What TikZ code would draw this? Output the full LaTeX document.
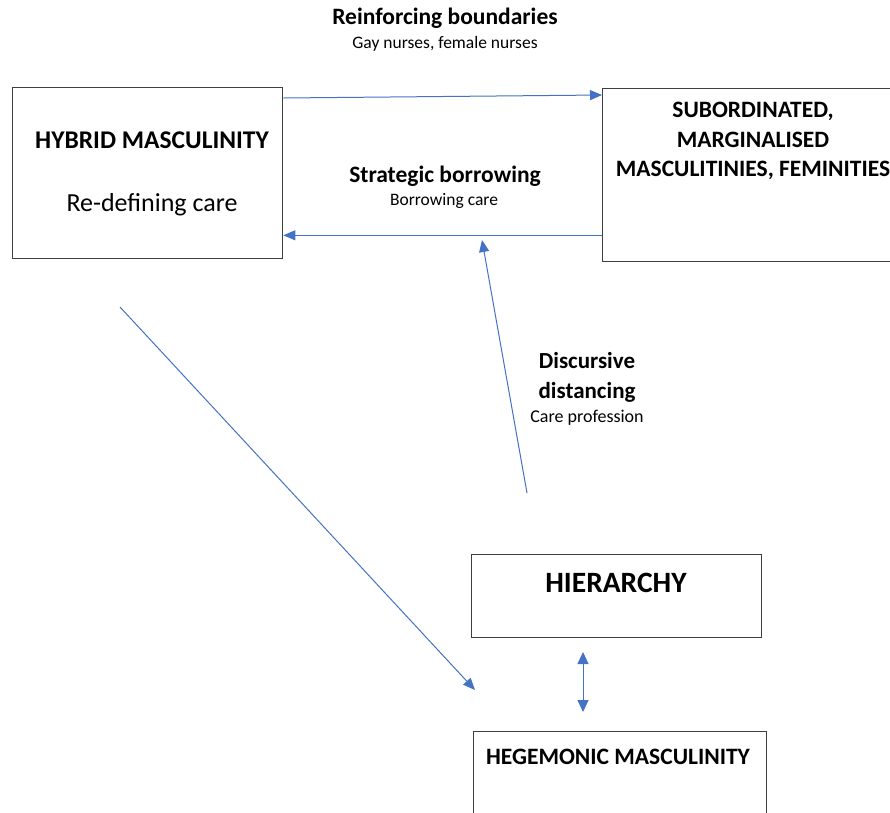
\documentclass[tikz,border=0pt]{standalone}
\usepackage{fontspec}
\setmainfont{Carlito}
\usetikzlibrary{arrows.meta}
\definecolor{linkblue}{HTML}{4472C4}
\definecolor{boxgray}{HTML}{3F3F3F}
\tikzset{
box/.style={draw=boxgray, line width=1.3pt, inner sep=0pt, anchor=north west},
link/.style={draw=linkblue, line width=1pt, -{Triangle[length=12pt,width=10pt]}},
twoway/.style={link, {Triangle[length=12pt,width=11pt]}-{Triangle[length=12pt,width=11pt]}},
head/.style={font=\fontsize{23.5}{29.5}\selectfont\bfseries, align=center},
note/.style={font=\fontsize{17.5}{20}\selectfont}
}
\begin{document}
\begin{tikzpicture}[x=1pt,y=-1pt]
  \useasboundingbox (0,0) rectangle (890,812);
  \clip (0,0) rectangle (890,812);
  \node[box, minimum width=270pt, minimum height=171pt] (hyb) at (12,87) {};
  \node[box, minimum width=300pt, minimum height=173pt] (sub) at (602,88) {};
  \node[box, minimum width=290pt, minimum height=83pt] (hier) at (471,554) {};
  \node[box, minimum width=293pt, minimum height=110pt] (heg) at (473,731) {};
  \node[head, font=\fontsize{25.5}{30}\selectfont\bfseries] (hybt) at (152,140) {HYBRID MASCULINITY};
  \node[font=\fontsize{26}{30}\selectfont] (hybs) at (152,205) {Re-defining care};
  \node[head] (subt) at (753,141) {SUBORDINATED,\\MARGINALISED\\MASCULITINIES, FEMINITIES};
  \node[head, font=\fontsize{29.5}{34}\selectfont\bfseries] (hiert) at (616,583) {HIERARCHY};
  \node[head] (hegt) at (618,757) {HEGEMONIC MASCULINITY};
  \node[head] (rein) at (445,18) {Reinforcing boundaries};
  \node[note] (reins) at (445,44) {Gay nurses, female nurses};
  \node[head] (strat) at (445,176) {Strategic borrowing};
  \node[note] (strats) at (444,201) {Borrowing care};
  \node[head, font=\fontsize{23}{30}\selectfont\bfseries] (disc) at (587,377) {Discursive\\distancing};
  \node[note, font=\fontsize{18}{20}\selectfont] (discs) at (587,418) {Care profession};
  \coordinate (dfoot) at (527,493);
  \coordinate (dtip) at (482,240);
  \coordinate (hfoot) at (120,307);
  \coordinate (htip) at (475,690);
  \coordinate (upper) at (583,652);
  \coordinate (lower) at (583,712);
  \draw[link] ([yshift=-11pt]hyb.north east) -- ([yshift=-7pt]sub.north west);
  \draw[link] ([yshift=27pt]sub.south west) -- ([yshift=24pt]hyb.south east);
  \draw[link] (dfoot) -- (dtip);
  \draw[link] (hfoot) -- (htip);
  \draw[twoway] (upper) -- (lower);
\end{tikzpicture}
\end{document}
